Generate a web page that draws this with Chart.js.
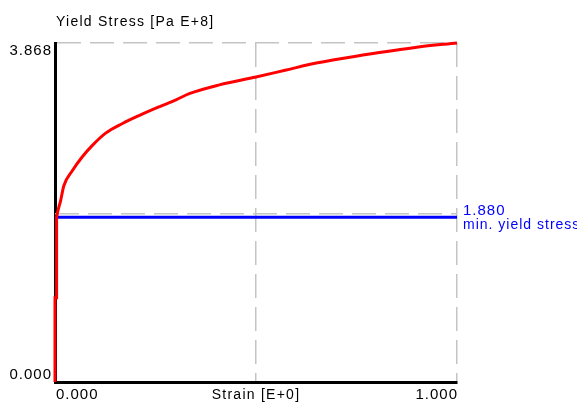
<!DOCTYPE html>
<html>
<head>
<meta charset="utf-8">
<script src="https://cdn.jsdelivr.net/npm/chart.js@4/dist/chart.umd.min.js"></script>
<style>
  html, body { margin: 0; padding: 0; background: #fff; }
</style>
</head>
<body>
<canvas id="chart" width="577" height="403"></canvas>
<script>
'use strict';

// red hardening curve
let strain = [0, 0, 0.004, 0.004, 0.006, 0.014, 0.022, 0.043, 0.068, 0.093, 0.126, 0.168, 0.209,
  0.259, 0.301, 0.334, 0.409, 0.5, 0.575, 0.65, 0.766, 0.9, 1.0];
let stress = [0, 0.96, 0.96, 1.88, 1.93, 2.07, 2.24, 2.41, 2.57, 2.70, 2.84, 2.95, 3.04,
  3.14, 3.22, 3.29, 3.39, 3.48, 3.56, 3.64, 3.73, 3.82, 3.868];

let minYield = 1.88;
let dashedLevel = 1.92;

let xTicks = [0, 0.5, 1];
let xTickLabels = ['0.000', '', '1.000'];
let yTicks = [0, 3.868];
let yTickLabels = ['0.000', '3.868'];

let yTitle = 'Yield Stress [Pa E+8]';
let xTitle = 'Strain [E+0]';
let yieldLabel = ['1.880', 'min. yield stress'];

let curve = [];
for (let i = 0; i < strain.length; i++) {
  curve.push({ x: strain[i], y: stress[i] });
}

const gridGrey = '#c4c4c4';

const labelPlugin = {
  id: 'labels',
  afterDraw(chart) {
    const ctx = chart.ctx;
    const xs = chart.scales.x;
    const ys = chart.scales.y;
    ctx.save();
    ctx.font = '14px "Liberation Sans"';
    ctx.letterSpacing = '1.25px';
    ctx.textBaseline = 'alphabetic';
    ctx.fillStyle = '#000';

    ctx.textAlign = 'left';
    ctx.fillText(yTitle, xs.left + 1, 26);

    // numbers are wider in the original font
    ctx.font = '15px "Liberation Sans"';
    ctx.letterSpacing = '1px';
    ctx.textAlign = 'right';
    ctx.fillText(yTickLabels[1], xs.left - 3, ys.getPixelForValue(yTicks[1]) + 12);
    ctx.fillText(yTickLabels[0], xs.left - 3, ys.getPixelForValue(yTicks[0]) - 3);

    const base = ys.bottom + 17;
    ctx.textAlign = 'left';
    ctx.fillText(xTickLabels[0], xs.getPixelForValue(xTicks[0]) + 1, base);
    ctx.textAlign = 'right';
    ctx.fillText(xTickLabels[2], xs.getPixelForValue(xTicks[2]) + 1, base);

    ctx.font = '14px "Liberation Sans"';
    ctx.letterSpacing = '1.25px';
    ctx.textAlign = 'center';
    ctx.fillText(xTitle, xs.getPixelForValue(xTicks[1]), base);

    ctx.fillStyle = '#0000ff';
    ctx.textAlign = 'left';
    const yy = ys.getPixelForValue(minYield);
    ctx.font = '15px "Liberation Sans"';
    ctx.letterSpacing = '1px';
    ctx.fillText(yieldLabel[0], xs.right + 6, yy - 2);
    ctx.font = '14px "Liberation Sans"';
    ctx.fillText(yieldLabel[1], xs.right + 6, yy + 12);
    ctx.restore();
  }
};

new Chart(document.getElementById('chart'), {
  type: 'scatter',
  data: {
    datasets: [
      {
        data: curve,
        showLine: true,
        borderColor: '#ff0000',
        borderWidth: 3,
        pointRadius: 0,
        cubicInterpolationMode: 'monotone',
        clip: 4
      },
      {
        data: [{ x: 0, y: minYield }, { x: 1, y: minYield }],
        showLine: true,
        borderColor: '#0000ff',
        borderWidth: 3,
        pointRadius: 0
      },
      {
        data: [{ x: 0, y: dashedLevel }, { x: 1, y: dashedLevel }],
        showLine: true,
        borderColor: gridGrey,
        borderWidth: 1.5,
        borderDash: [24, 9],
        pointRadius: 0
      }
    ]
  },
  options: {
    responsive: false,
    animation: false,
    layout: { padding: { left: 55, top: 43, right: 120, bottom: 21 } },
    plugins: { legend: { display: false }, tooltip: { enabled: false } },
    scales: {
      x: {
        type: 'linear',
        min: 0,
        max: 1,
        afterBuildTicks: function(scale) {
          scale.ticks = xTicks.map(v => ({ value: v }));
        },
        ticks: { display: false },
        grid: {
          drawTicks: false,
          lineWidth: 1.5,
          color: ctx => (ctx.tick && ctx.tick.value === 0) ? 'rgba(0,0,0,0)' : gridGrey
        },
        border: { display: true, color: '#000', width: 3, dash: [24, 9] }
      },
      y: {
        type: 'linear',
        min: 0,
        max: 3.868,
        afterBuildTicks: function(scale) {
          scale.ticks = yTicks.map(v => ({ value: v }));
        },
        ticks: { display: false },
        grid: {
          drawTicks: false,
          lineWidth: 1.5,
          color: ctx => (ctx.tick && ctx.tick.value === 0) ? 'rgba(0,0,0,0)' : gridGrey
        },
        border: { display: true, color: '#000', width: 3, dash: [24, 9] }
      }
    }
  },
  plugins: [labelPlugin]
});
</script>
</body>
</html>
